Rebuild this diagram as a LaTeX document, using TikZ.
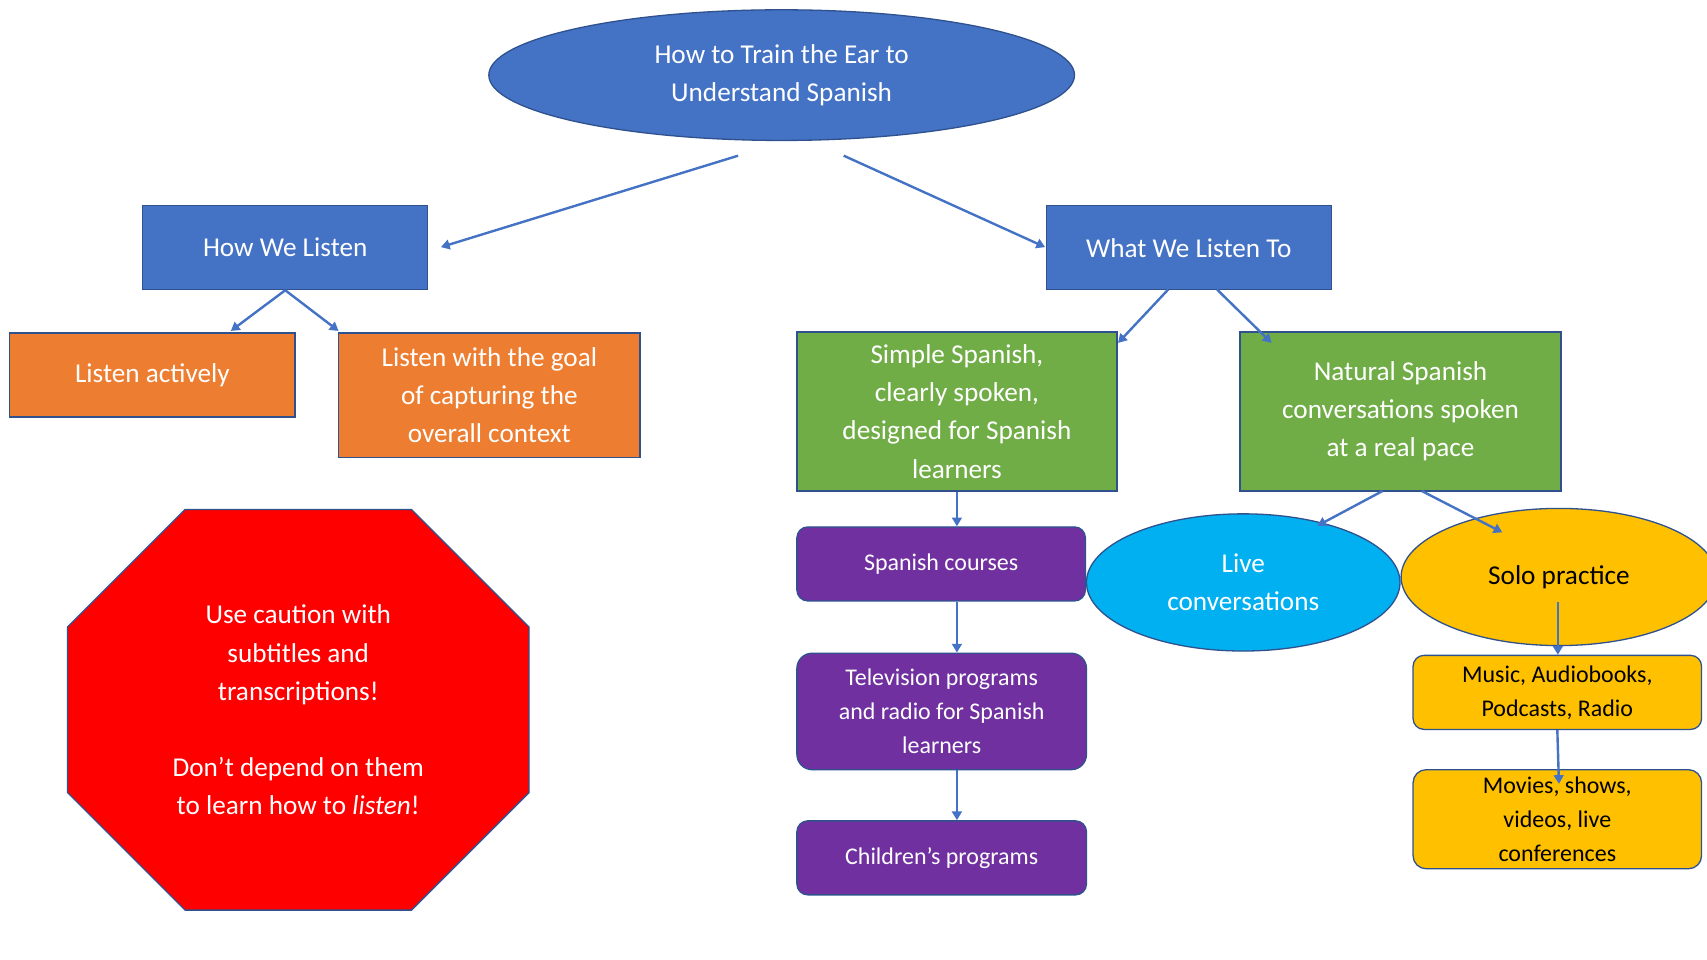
\documentclass[tikz,border=0pt]{standalone}
\usepackage{fontspec}
\setmainfont{Carlito}
\usetikzlibrary{arrows.meta}
\definecolor{blu}{HTML}{4472C4}
\definecolor{bdr}{HTML}{2F528F}
\definecolor{org}{HTML}{ED7D31}
\definecolor{grn}{HTML}{70AD47}
\definecolor{pur}{HTML}{7030A0}
\definecolor{cyn}{HTML}{00B0F0}
\definecolor{yel}{HTML}{FFC000}
\begin{document}
\begin{tikzpicture}[x=1pt,y=-1pt,
  box/.style={draw=bdr,line width=1.2pt,text=white,align=center,inner sep=0pt},
  big/.style={font=\fontsize{25}{35}\selectfont},
  small/.style={font=\fontsize{22}{31}\selectfont},
  arr/.style={draw=blu,line width=2.2pt,-{Triangle[length=8pt,width=9pt]}}]
\useasboundingbox (0,0) rectangle (1568,881);
\clip (0,0) rectangle (1568,881);
\fill[white] (0,0) rectangle (1568,881);
% root
\draw[fill=blu,draw=bdr,line width=1.2pt] (718,69) ellipse [x radius=269,y radius=60];
\node[big,text=white,align=center] (root) at (718,69) {How to Train the Ear to\\Understand Spanish};
% level 1
\node[box,big,fill=blu,minimum width=262pt,minimum height=77pt] (how) at (262,227.5) {How We Listen};
\node[box,big,fill=blu,minimum width=262pt,minimum height=77pt] (what) at (1092,227.5) {What We Listen To};
\node[box,big,fill=org,minimum width=262pt,minimum height=77pt] (act) at (140,344.5) {Listen actively};
\node[box,big,fill=org,minimum width=277pt,minimum height=114pt] (goal) at (449.5,363) {Listen with the goal\\of capturing the\\overall context};
\node[box,big,fill=grn,minimum width=294pt,minimum height=146pt] (simple) at (879,378) {Simple Spanish,\\clearly spoken,\\designed for Spanish\\learners};
\node[box,big,fill=grn,minimum width=295pt,minimum height=146pt] (nat) at (1286.5,378) {Natural Spanish\\conversations spoken\\at a real pace};
\node[box,small,fill=pur,rounded corners=10pt,minimum width=265pt,minimum height=68pt] (courses) at (864.5,518) {Spanish courses};
\node[box,small,fill=pur,rounded corners=14pt,minimum width=266pt,minimum height=107pt] (tv) at (865,653.5) {Television programs\\and radio for Spanish\\learners};
\node[box,small,fill=pur,rounded corners=10pt,minimum width=266pt,minimum height=68pt] (kids) at (865,788) {Children’s programs};
\draw[fill=cyn,draw=bdr,line width=1.2pt] (1142,535) ellipse [x radius=144,y radius=63];
\node[big,text=white,align=center] (live) at (1142,535) {Live\\conversations};
\draw[fill=yel,draw=bdr,line width=1.2pt] (1432,530) ellipse [x radius=145,y radius=63];
\node[big,text=black,align=center] (solo) at (1432,530) {Solo practice};
\node[box,small,text=black,fill=yel,rounded corners=10pt,minimum width=265pt,minimum height=68pt] (music) at (1430.5,636) {Music, Audiobooks,\\Podcasts, Radio};
\node[box,small,text=black,fill=yel,rounded corners=12pt,minimum width=265pt,minimum height=91pt] (movies) at (1430.5,752.5) {Movies, shows,\\videos, live\\conferences};
% octagon
\draw[fill=red,draw=bdr,line width=1.2pt] (170,468)--(378,468)--(486,576)--(486,728)--(378,836)--(170,836)--(62,728)--(62,576)--cycle;
\node[big,text=white,align=center] (warn) at (274,652) {Use caution with\\subtitles and\\transcriptions!\\[35pt]Don’t depend on them\\to learn how to \textit{listen}!};
% connector endpoints
\coordinate (a1) at (678,143); \coordinate (a2) at (405,227);
\coordinate (b1) at (775,143); \coordinate (b2) at (960,227);
\coordinate (c2) at (212,304); \coordinate (d2) at (311,304);
\coordinate (e1) at (1073,266); \coordinate (e2) at (1027,315);
\coordinate (f1) at (1118,266); \coordinate (f2) at (1168,315);
\coordinate (g1) at (1270,451); \coordinate (g2) at (1210,483);
\coordinate (h1) at (1306,451); \coordinate (h2) at (1380,489);
\coordinate (i1) at (1431,553); \coordinate (j2) at (1432,720);
\draw[arr] (a1)--(a2);
\draw[arr] (b1)--(b2);
\draw[arr] (how.south)--(c2);
\draw[arr] (how.south)--(d2);
\draw[arr] (e1)--(e2);
\draw[arr] (f1)--(f2);
\draw[arr] (simple.south)--(simple.south |- courses.north);
\draw[arr] (simple.south |- courses.south)--(simple.south |- tv.north);
\draw[arr] (simple.south |- tv.south)--(simple.south |- kids.north);
\draw[arr] (g1)--(g2);
\draw[arr] (h1)--(h2);
\draw[arr] (i1)--(i1 |- music.north);
\draw[arr] (music.south)--(j2);
\end{tikzpicture}
\end{document}
